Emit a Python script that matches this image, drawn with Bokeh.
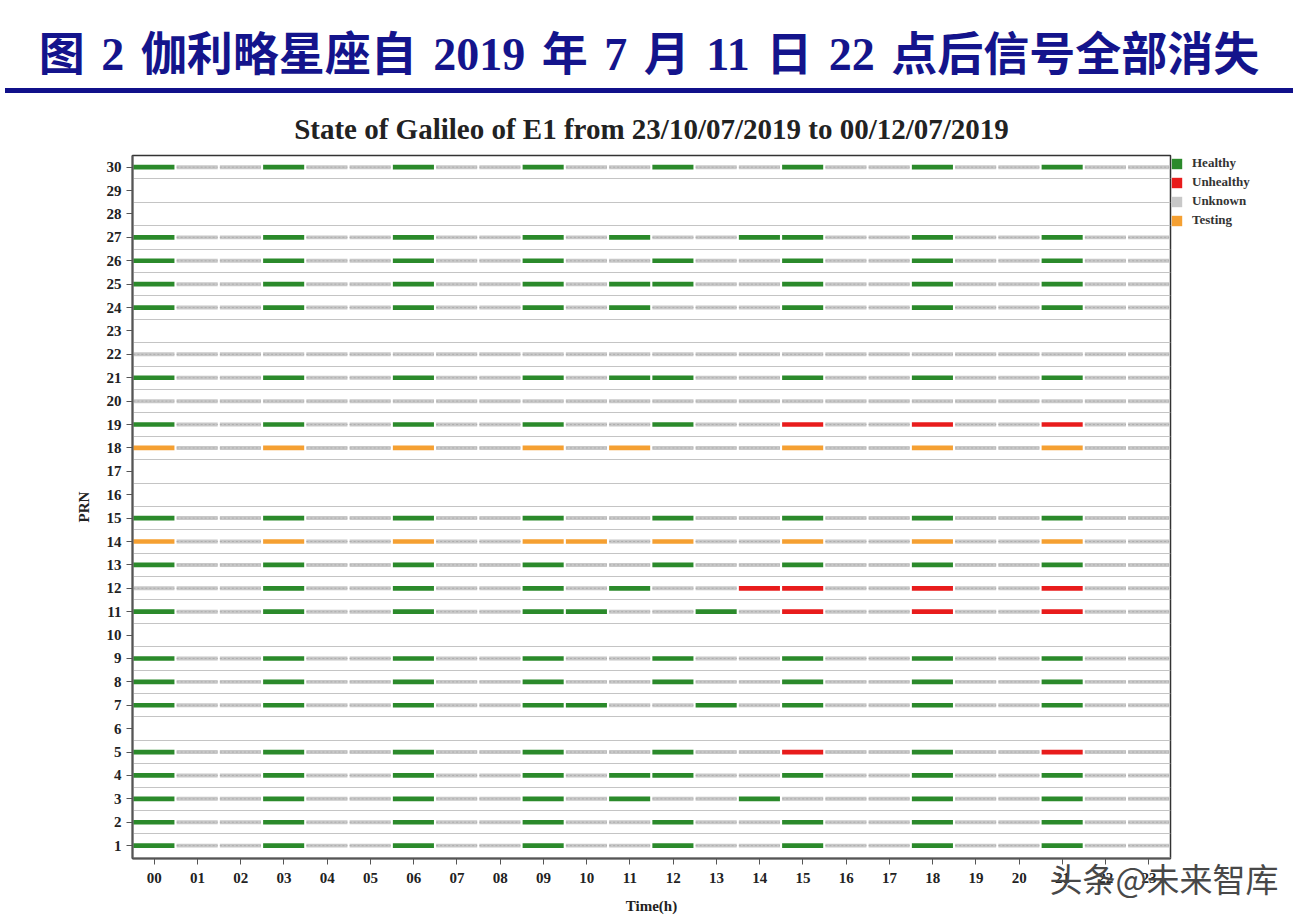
from bokeh.plotting import figure
from bokeh.models import (Range1d, FixedTicker, Legend, LegendItem, Div,
                          ColumnDataSource, LinearAxis)
from bokeh.layouts import column
from bokeh.embed import file_html
from bokeh.resources import INLINE

# ---------------- data ----------------
hours = list(range(24))
hour_labels = ["%02d" % h for h in hours]
prn_ticks = list(range(1, 31))
active_prns = [1, 2, 3, 4, 5, 7, 8, 9, 11, 12, 13, 14, 15, 18, 19, 20, 21, 22,
               24, 25, 26, 27, 30]

healthy_hours = {
    30: [0, 3, 6, 9, 12, 15, 18, 21],
    27: [0, 3, 6, 9, 11, 14, 15, 18, 21],
    26: [0, 3, 6, 9, 12, 15, 18, 21],
    25: [0, 3, 6, 9, 11, 12, 15, 18, 21],
    24: [0, 3, 6, 9, 11, 15, 18, 21],
    21: [0, 3, 6, 9, 11, 12, 15, 18, 21],
    19: [0, 3, 6, 9, 12],
    15: [0, 3, 6, 9, 12, 15, 18, 21],
    13: [0, 3, 6, 9, 12, 15, 18, 21],
    12: [3, 6, 9, 11],
    11: [0, 3, 6, 9, 10, 13],
    9: [0, 3, 6, 9, 12, 15, 18, 21],
    8: [0, 3, 6, 9, 12, 15, 18, 21],
    7: [0, 3, 6, 9, 10, 13, 15, 18, 21],
    5: [0, 3, 6, 9, 12, 18],
    4: [0, 3, 6, 9, 11, 12, 15, 18, 21],
    3: [0, 3, 6, 9, 11, 14, 18, 21],
    2: [0, 3, 6, 9, 12, 15, 18, 21],
    1: [0, 3, 6, 9, 12, 15, 18, 21],
}
unhealthy_hours = {
    19: [15, 18, 21],
    12: [14, 15, 18, 21],
    11: [15, 18, 21],
    5: [15, 21],
}
testing_hours = {
    18: [0, 3, 6, 9, 11, 15, 18, 21],
    14: [0, 3, 6, 9, 10, 12, 15, 18, 21],
}

status_names = ["Healthy", "Unhealthy", "Unknown", "Testing"]
status_colors = ["#2b8a2b", "#e81c1c", "#c8c8c8", "#f5a032"]

main_title = "图 2 伽利略星座自 2019 年 7 月 11 日 22 点后信号全部消失"
chart_title = "State of Galileo of E1 from 23/10/07/2019 to 00/12/07/2019"
watermark = "头条@未来智库"
watermark_x = 23.35

# ---------------- build segments ----------------
seg = {s: {"y": [], "left": [], "right": []} for s in status_names}
for prn in active_prns:
    for h in hours:
        if h in healthy_hours.get(prn, []):
            s = "Healthy"
        elif h in unhealthy_hours.get(prn, []):
            s = "Unhealthy"
        elif h in testing_hours.get(prn, []):
            s = "Testing"
        else:
            s = "Unknown"
        seg[s]["y"].append(prn)
        seg[s]["left"].append(h - 0.48)
        seg[s]["right"].append(h + 0.47)

SERIF = "Liberation Serif"

# ---------------- header ----------------
header_html = (
    '<div style="box-sizing:border-box;width:1288px;height:93px;margin:0 0 0 5px;'
    'padding-top:31px;border-bottom:5px solid #10108a;text-align:center;'
    "font-family:'Liberation Serif','Noto Sans CJK SC',serif;font-weight:bold;"
    'font-size:46px;line-height:48px;word-spacing:5px;color:#14148c;'
    'white-space:nowrap;">' + main_title + '</div>'
)
hdr = Div(text=header_html, width=1308, height=96,
          styles={"margin": "0", "padding": "0"})

# ---------------- chart ----------------
p = figure(frame_width=1038, frame_height=703, output_backend="svg",
           toolbar_location=None,
           x_range=Range1d(-0.5, 23.5), y_range=Range1d(0.45, 30.5),
           min_border_left=132, min_border_right=138,
           min_border_top=59, min_border_bottom=62,
           title=chart_title)
p.title.align = "center"
p.title.text_font = SERIF
p.title.text_font_size = "29px"
p.title.text_font_style = "bold"
p.title.text_color = "#222222"
p.title.standoff = 22
p.outline_line_color = "#333333"
p.outline_line_width = 1.5

renderers = {}
for name, color in zip(status_names, status_colors):
    src = ColumnDataSource(seg[name])
    hgt = 0.17 if name == "Unknown" else 0.2
    renderers[name] = p.hbar(y="y", left="left", right="right", height=hgt,
                             source=src, fill_color=color, line_color=None)
    if name == "Unknown":
        p.segment(x0="left", x1="right", y0="y", y1="y", source=src,
                  line_color="#adadad", line_width=1, line_dash="2 2")

# axes
p.xaxis.ticker = FixedTicker(ticks=hours)
p.xaxis.major_label_overrides = {h: lab for h, lab in zip(hours, hour_labels)}
p.yaxis.ticker = FixedTicker(ticks=prn_ticks)
p.xaxis.axis_label = "Time(h)"
p.yaxis.axis_label = "PRN"
for ax in (p.xaxis, p.yaxis):
    ax.major_label_text_font = SERIF
    ax.major_label_text_font_style = "bold"
    ax.major_label_text_font_size = "15px"
    ax.major_label_text_color = "#222222"
    ax.axis_label_text_font = SERIF
    ax.axis_label_text_font_style = "bold"
    ax.axis_label_text_font_size = "15px"
    ax.axis_label_text_color = "#222222"
    ax.major_tick_in = 0
    ax.major_tick_out = 6
    ax.minor_tick_line_color = None
    ax.axis_line_color = "#555555"
    ax.axis_line_width = 2
    ax.major_tick_line_color = "#555555"
p.xaxis.major_label_standoff = 8
p.xaxis.axis_label_standoff = 12
p.yaxis.major_label_standoff = 5
p.yaxis.axis_label_standoff = 12

p.xgrid.visible = False
p.ygrid.ticker = FixedTicker(ticks=[k + 0.5 for k in range(0, 30)])
p.ygrid.grid_line_color = "#c4c4c4"
p.ygrid.grid_line_width = 1

legend = Legend(items=[LegendItem(label=n, renderers=[renderers[n]]) for n in status_names],
                location="top_left", margin=0, padding=16,
                glyph_width=13, glyph_height=13, label_height=13,
                spacing=3, label_standoff=9,
                label_text_font=SERIF, label_text_font_style="bold",
                label_text_font_size="13px", label_text_color="#333333",
                border_line_color=None, background_fill_alpha=0)
p.add_layout(legend, "right")

# watermark, drawn as an extra unlabeled axis pulled up into the tick-label row
wm_axis = LinearAxis(ticker=FixedTicker(ticks=[watermark_x]),
                     major_label_overrides={watermark_x: watermark},
                     major_label_text_font="Noto Sans CJK SC",
                     major_label_text_font_size="33px",
                     major_label_text_color="#484848",
                     major_label_standoff=-69,
                     axis_line_color=None, major_tick_line_color=None,
                     minor_tick_line_color=None)
p.add_layout(wm_axis, "below")

layout = column(hdr, p, spacing=0)
open("out.html", "w").write(file_html(layout, INLINE))
